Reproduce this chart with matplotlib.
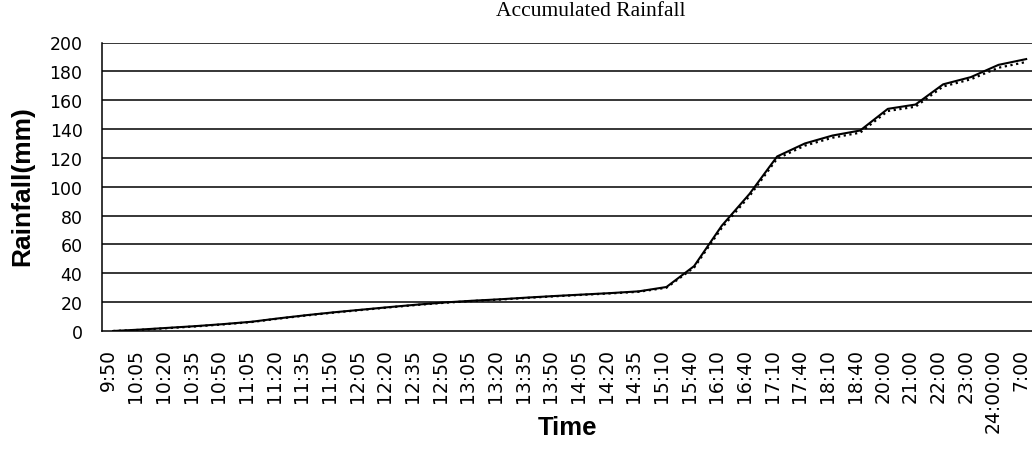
import matplotlib
matplotlib.use("Agg")
import matplotlib.pyplot as plt
from matplotlib.transforms import ScaledTranslation
import numpy as np

times = ["9:50", "10:05", "10:20", "10:35", "10:50", "11:05", "11:20", "11:35",
         "11:50", "12:05", "12:20", "12:35", "12:50", "13:05", "13:20", "13:35",
         "13:50", "14:05", "14:20", "14:35", "15:10", "15:40", "16:10", "16:40",
         "17:10", "17:40", "18:10", "18:40", "20:00", "21:00", "22:00", "23:00",
         "24:00:00", "7:00"]

rain_a = [0, 1.0, 2.2, 3.4, 4.8, 6.4, 8.8, 11.0, 13.0, 14.8, 16.6, 18.3, 19.8,
          21.0, 22.0, 23.2, 24.3, 25.3, 26.3, 27.5, 30.5, 45.0, 73.0, 95.0,
          121.0, 130.0, 135.5, 139.0, 154.0, 157.0, 171.0, 176.0, 184.5, 188.5]

rain_b = [0, 0.8, 2.0, 3.2, 4.6, 6.2, 8.6, 10.8, 12.8, 14.6, 16.4, 18.1, 19.6,
          20.8, 21.8, 23.0, 24.1, 25.1, 26.1, 27.2, 30.0, 44.0, 71.5, 93.5,
          119.5, 128.5, 134.0, 137.5, 152.5, 155.5, 169.5, 174.5, 182.5, 186.5]

yticks = [0, 20, 40, 60, 80, 100, 120, 140, 160, 180, 200]

W, H = 1032, 460
fig = plt.figure(figsize=(W / 100, H / 100), dpi=100)
ax = fig.add_axes([102 / W, (H - 332) / H, (1040 - 102) / W, (332 - 43.5) / H])

x = np.arange(len(times))
ax.plot(x, rain_a, color="black", lw=1.5, solid_joinstyle="round", zorder=3)
ax.plot(x, rain_b, color="black", lw=1.6, ls=(0, (1, 1.6)), zorder=3)

ax.set_xlim(-0.4, len(times) - 0.5)
ax.set_ylim(0, 200)
ax.set_yticks(yticks)
ax.set_yticklabels([str(v) for v in yticks])
ax.set_xticks(x)
ax.set_xticklabels(times, rotation=90, va="top", ha="center")

for v in yticks[1:]:
    ax.axhline(v, color="black", lw=1.1, zorder=1)

for s in ["top", "right"]:
    ax.spines[s].set_visible(False)
ax.spines["left"].set_linewidth(1.1)
ax.spines["bottom"].set_linewidth(1.1)

ax.tick_params(axis="both", length=0)
ax.tick_params(axis="x", pad=12, labelsize=13.5)
ax.tick_params(axis="y", pad=14, labelsize=12.5)
for lab in ax.get_xticklabels():
    lab.set_fontfamily("DejaVu Sans")
    lab.set_transform(lab.get_transform() + ScaledTranslation(-5 / 100, 0, fig.dpi_scale_trans))
for lab in ax.get_yticklabels():
    lab.set_fontfamily("DejaVu Sans")

fig.text(591 / W, 1 - 12 / H, "Accumulated Rainfall", ha="center", va="center",
         fontsize=15.5, family="Liberation Serif")
fig.text(22 / W, 1 - 186 / H, "Rainfall(mm)", rotation=90, ha="center", va="center",
         fontsize=19, fontweight="bold", family="Liberation Sans")
fig.text(567 / W, 1 - 428 / H, "Time", ha="center", va="center",
         fontsize=18.5, fontweight="bold", family="Liberation Sans")

fig.savefig("out.png", dpi=100)
